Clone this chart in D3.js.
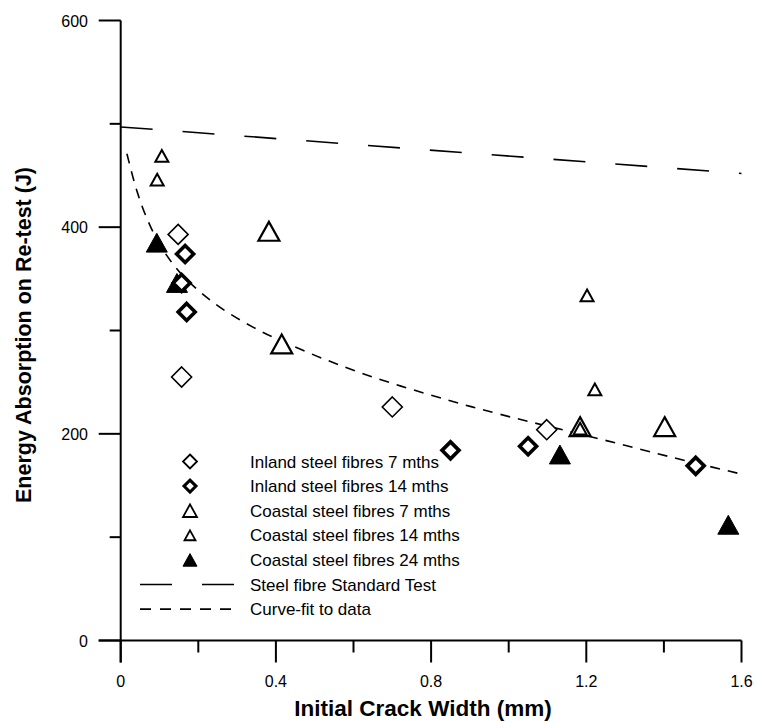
<!DOCTYPE html>
<html>
<head>
<meta charset="utf-8">
<script src="https://cdn.jsdelivr.net/npm/d3@7"></script>
<style>
  body { margin: 0; background: #fff; }
  text { font-family: "Liberation Sans", Arial, sans-serif; fill: #000; }
</style>
</head>
<body>
<div id="chart"></div>
<script>
// data
var inland7W = [0.148, 0.157, 0.700, 1.098];
var inland7E = [393, 255, 226, 204];
var inland14W = [0.166, 0.157, 0.170, 0.850, 1.050, 1.482];
var inland14E = [374, 346, 318, 184, 188, 169];
var coastal7W = [0.382, 0.415, 1.184, 1.402];
var coastal7E = [396, 287, 207, 207];
var coastal14W = [0.106, 0.094, 1.202, 1.222, 1.184];
var coastal14E = [469, 446, 334, 243, 205];
var coastal24W = [0.093, 0.145, 1.132, 1.566];
var coastal24E = [385, 346, 180, 112];

// steel fibre standard test line
var standardW = [0, 1.6];
var standardE = [497, 452];

// curve-fit
var fitW = [0.016, 0.041, 0.067, 0.101, 0.153, 0.239, 0.342, 0.462, 0.634, 0.840, 0.977, 1.235, 1.424, 1.6];
var fitE = [471, 436, 409, 383, 356, 327, 303, 282, 257, 233, 219, 195, 177, 161];

var xTicks = [0, 0.4, 0.8, 1.2, 1.6];
var xMinor = [0.2, 0.6, 1.0, 1.4];
var yTicks = [0, 200, 400, 600];
var yMinor = [100, 300, 500];

var legendLabels = ["Inland steel fibres 7 mths", "Inland steel fibres 14 mths",
  "Coastal steel fibres 7 mths", "Coastal steel fibres 14 mths",
  "Coastal steel fibres 24 mths", "Steel fibre Standard Test", "Curve-fit to data"];

var width = 757, height = 722;

var x = d3.scaleLinear().domain([0, 1.6]).range([120.7, 741.5]);
var y = d3.scaleLinear().domain([0, 600]).range([640.5, 20.5]);

var svg = d3.select("#chart").append("svg")
    .attr("width", width)
    .attr("height", height);

// custom symbols, size = half width
var diamond = {
  draw: function(ctx, r) {
    ctx.moveTo(0, -r); ctx.lineTo(r, 0); ctx.lineTo(0, r); ctx.lineTo(-r, 0); ctx.closePath();
  }
};
var triangle = {
  draw: function(ctx, r) {
    var h = r * 0.9;
    ctx.moveTo(0, -h); ctx.lineTo(r, h); ctx.lineTo(-r, h); ctx.closePath();
  }
};

var styles = [
  {type: diamond, r: 10, fill: "#fff", sw: 1.6, lr: 7},
  {type: diamond, r: 8.5, fill: "#fff", sw: 3.6, lr: 6},
  {type: triangle, r: 10.5, fill: "#fff", sw: 2.2, lr: 7},
  {type: triangle, r: 6.5, fill: "#fff", sw: 2, lr: 5.5},
  {type: triangle, r: 10.5, fill: "#000", sw: 1, lr: 7}
];

// axes
svg.append("line")
    .attr("x1", x(0)).attr("x2", x(0))
    .attr("y1", y(600)).attr("y2", y(0) + 22)
    .attr("stroke", "#000").attr("stroke-width", 2);
svg.append("line")
    .attr("x1", x(0) - 22).attr("x2", x(1.6))
    .attr("y1", y(0)).attr("y2", y(0))
    .attr("stroke", "#000").attr("stroke-width", 2);

svg.selectAll(".ytick").data(yTicks).enter().append("line")
    .attr("x1", x(0) - 22).attr("x2", x(0))
    .attr("y1", function(d) { return y(d); }).attr("y2", function(d) { return y(d); })
    .attr("stroke", "#000").attr("stroke-width", 2);
svg.selectAll(".yminor").data(yMinor).enter().append("line")
    .attr("x1", x(0) - 11).attr("x2", x(0))
    .attr("y1", function(d) { return y(d); }).attr("y2", function(d) { return y(d); })
    .attr("stroke", "#000").attr("stroke-width", 2);
svg.selectAll(".xtick").data(xTicks).enter().append("line")
    .attr("x1", function(d) { return x(d); }).attr("x2", function(d) { return x(d); })
    .attr("y1", y(0)).attr("y2", y(0) + 22)
    .attr("stroke", "#000").attr("stroke-width", 2);
svg.selectAll(".xminor").data(xMinor).enter().append("line")
    .attr("x1", function(d) { return x(d); }).attr("x2", function(d) { return x(d); })
    .attr("y1", y(0)).attr("y2", y(0) + 12)
    .attr("stroke", "#000").attr("stroke-width", 2);

svg.selectAll(".ylab").data(yTicks).enter().append("text")
    .attr("x", 88)
    .attr("y", function(d) { return y(d) + 6; })
    .attr("text-anchor", "end")
    .style("font-size", "16px")
    .text(function(d) { return d; });
svg.selectAll(".xlab").data(xTicks).enter().append("text")
    .attr("x", function(d) { return x(d); })
    .attr("y", 687)
    .attr("text-anchor", "middle")
    .style("font-size", "16px")
    .text(function(d) { return d; });

// axis titles
svg.append("text")
    .attr("x", 423).attr("y", 716)
    .attr("text-anchor", "middle")
    .style("font-size", "22.5px").style("font-weight", "bold")
    .text("Initial Crack Width (mm)");
svg.append("text")
    .attr("transform", "translate(31,335) rotate(-90)")
    .attr("text-anchor", "middle")
    .style("font-size", "21.5px").style("font-weight", "bold")
    .text("Energy Absorption on Re-test (J)");

// lines
var line = d3.line()
    .x(function(d) { return x(d[0]); })
    .y(function(d) { return y(d[1]); });

svg.append("path")
    .datum(d3.zip(standardW, standardE))
    .attr("d", line)
    .attr("fill", "none").attr("stroke", "#000").attr("stroke-width", 1.6)
    .attr("stroke-dasharray", "32,30");

svg.append("path")
    .datum(d3.zip(fitW, fitE))
    .attr("d", line.curve(d3.curveCatmullRom))
    .attr("fill", "none").attr("stroke", "#000").attr("stroke-width", 1.6)
    .attr("stroke-dasharray", "10,8");

// points
var series = [
  d3.zip(inland7W, inland7E),
  d3.zip(inland14W, inland14E),
  d3.zip(coastal7W, coastal7E),
  d3.zip(coastal14W, coastal14E),
  d3.zip(coastal24W, coastal24E)
];
var drawOrder = [0, 2, 3, 4, 1];
drawOrder.forEach(function(i) {
  var s = styles[i];
  svg.selectAll(".pt" + i).data(series[i]).enter().append("path")
      .attr("transform", function(d) { return "translate(" + x(d[0]) + "," + y(d[1]) + ")"; })
      .attr("d", d3.symbol().type(s.type).size(s.r))
      .attr("fill", s.fill).attr("stroke", "#000").attr("stroke-width", s.sw)
      .attr("stroke-linejoin", "miter");
});

// legend
var legY0 = 461.5, legStep = 24.6;
var legend = svg.append("g");
legendLabels.forEach(function(lbl, i) {
  var ly = legY0 + i * legStep;
  if (i < 5) {
    var s = styles[i];
    legend.append("path")
        .attr("transform", "translate(190," + ly + ")")
        .attr("d", d3.symbol().type(s.type).size(s.lr))
        .attr("fill", s.fill).attr("stroke", "#000")
        .attr("stroke-width", i == 1 ? 3 : (i == 4 ? 1 : 1.8));
  } else {
    legend.append("line")
        .attr("x1", 140).attr("x2", 234).attr("y1", ly).attr("y2", ly)
        .attr("stroke", "#000").attr("stroke-width", 1.6)
        .attr("stroke-dasharray", i == 5 ? "32,30" : "11,9");
  }
  legend.append("text")
      .attr("x", 250).attr("y", ly + 6)
      .style("font-size", "17px")
      .text(lbl);
});
</script>
</body>
</html>
